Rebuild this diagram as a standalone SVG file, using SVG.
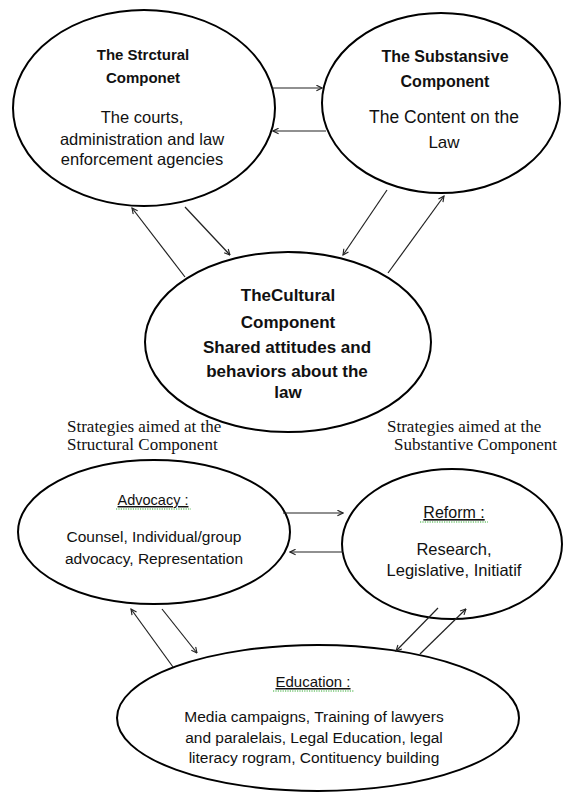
<svg xmlns="http://www.w3.org/2000/svg" width="563" height="792" viewBox="0 0 563 792">
<defs>
<marker id="ah" viewBox="0 0 10 10" refX="9" refY="5" markerWidth="7" markerHeight="7" orient="auto" markerUnits="userSpaceOnUse">
<path d="M1,1 L9,5 L1,9" fill="none" stroke="#222" stroke-width="1.6"/>
</marker>
<style>
.node{fill:#fff;stroke:#000;stroke-width:2}
.t{font-family:"Liberation Sans",Arial,sans-serif;fill:#111;text-anchor:middle}
.b{font-weight:bold}
.s{font-family:"Liberation Serif","Times New Roman",serif;fill:#111;font-size:17px}
.c line{stroke:#222;stroke-width:1.2;marker-end:url(#ah)}
.sq{fill:none;stroke:#3a3;stroke-width:1;stroke-dasharray:1.2 1.2}
</style>
</defs>
<rect width="563" height="792" fill="#fff"/>

<g id="structural">
<ellipse class="node" cx="144" cy="108" rx="131" ry="98"/>
<text class="t b" x="143" y="60" font-size="15">The Strctural</text>
<text class="t b" x="143" y="83" font-size="15">Componet</text>
<text class="t" x="142" y="123" font-size="16.5">The courts,</text>
<text class="t" x="142" y="145" font-size="16.5">administration and law</text>
<text class="t" x="142" y="165" font-size="16.5">enforcement agencies</text>
</g>

<g id="substansive">
<ellipse class="node" cx="441" cy="103" rx="119" ry="90"/>
<text class="t b" x="445" y="62" font-size="16">The Substansive</text>
<text class="t b" x="445" y="87" font-size="16">Component</text>
<text class="t" x="444" y="123" font-size="17.5">The Content on the</text>
<text class="t" x="444" y="148" font-size="17">Law</text>
</g>

<g id="cultural">
<ellipse class="node" cx="288" cy="342" rx="143" ry="90"/>
<text class="t b" x="288" y="301" font-size="17">TheCultural</text>
<text class="t b" x="288" y="328" font-size="17">Component</text>
<text class="t b" x="287" y="353" font-size="17">Shared attitudes and</text>
<text class="t b" x="287" y="377" font-size="17">behaviors about the</text>
<text class="t b" x="288" y="398" font-size="17">law</text>
</g>

<g id="label-structural">
<text class="s" x="67" y="432">Strategies aimed at the</text>
<text class="s" x="67" y="450">Structural Component</text>
</g>
<g id="label-substantive">
<text class="s" x="387" y="432">Strategies aimed at the</text>
<text class="s" x="394" y="450">Substantive Component</text>
</g>

<g id="advocacy">
<ellipse class="node" cx="154" cy="532" rx="136" ry="72"/>
<text class="t" x="153" y="505" font-size="14.5" text-decoration="underline">Advocacy :</text>
<path class="sq" d="M116,509 L191,509"/>
<text class="t" x="154" y="542" font-size="15.5">Counsel, Individual/group</text>
<text class="t" x="154" y="564" font-size="15.5">advocacy, Representation</text>
</g>

<g id="reform">
<ellipse class="node" cx="452" cy="544" rx="110" ry="75"/>
<text class="t" x="454" y="518" font-size="16" text-decoration="underline">Reform :</text>
<path class="sq" d="M420,522 L488,522"/>
<text class="t" x="454" y="555" font-size="16.5">Research,</text>
<text class="t" x="454" y="576" font-size="16.5">Legislative, Initiatif</text>
</g>

<g id="education">
<ellipse class="node" cx="318" cy="718" rx="201" ry="73"/>
<text class="t" x="313" y="687" font-size="15" text-decoration="underline">Education :</text>
<path class="sq" d="M273,691 L354,691"/>
<text class="t" x="314" y="722" font-size="15.5">Media campaigns, Training of lawyers</text>
<text class="t" x="314" y="743" font-size="15.5">and paralelais, Legal Education, legal</text>
<text class="t" x="314" y="763" font-size="15.5">literacy rogram, Contituency building</text>
</g>

<g id="connectors" class="c">
<line x1="272" y1="88" x2="322" y2="88"/>
<line x1="326" y1="131" x2="273" y2="131"/>
<line x1="185" y1="277" x2="132" y2="208"/>
<line x1="185" y1="207" x2="230" y2="255"/>
<line x1="387" y1="190" x2="343" y2="255"/>
<line x1="388" y1="273" x2="444" y2="196"/>
<line x1="283" y1="513" x2="343" y2="513"/>
<line x1="343" y1="552" x2="290" y2="552"/>
<line x1="173" y1="667" x2="131" y2="609"/>
<line x1="162" y1="609" x2="197" y2="653"/>
<line x1="438" y1="608" x2="396" y2="651"/>
<line x1="420" y1="654" x2="466" y2="609"/>
</g>
</svg>
